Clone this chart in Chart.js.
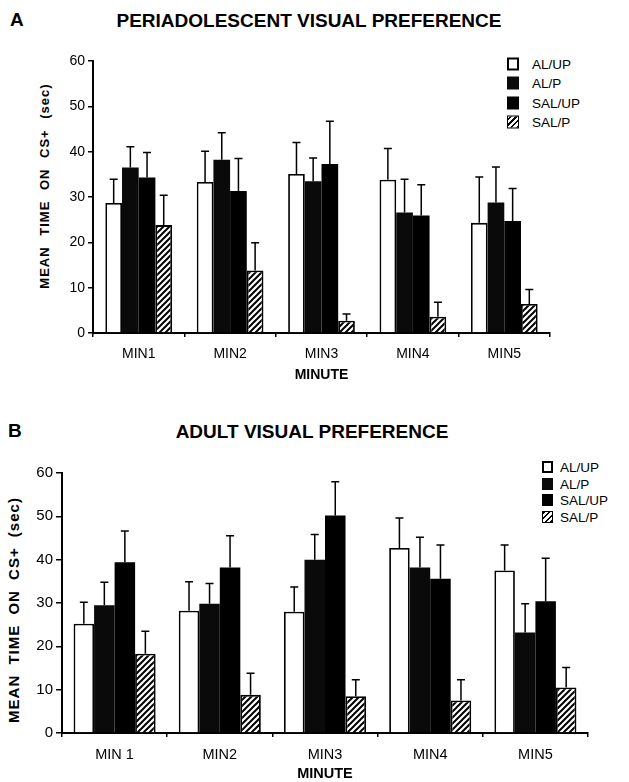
<!DOCTYPE html>
<html>
<head>
<meta charset="utf-8">
<script src="https://cdn.jsdelivr.net/npm/chart.js@4.4.0/dist/chart.umd.min.js"></script>
<style>
    body { margin: 0; background: #fff; width: 629px; height: 782px; position: relative; overflow: hidden;
           font-family: "Liberation Sans", Arial, sans-serif; color: #000; }
    .abs { position: absolute; white-space: nowrap; }
    .letter { font-weight: bold; font-size: 19px; }
    .title { font-weight: bold; font-size: 19px; transform: translate(-50%, -50%); }
    .ytitle { font-weight: bold; transform: translate(-50%, -50%) rotate(-90deg); }
    .legend-item { position: absolute; white-space: nowrap; }
    .legend-item span.box { position: absolute; left: 0; top: 50%; transform: translateY(-50%); box-sizing: border-box; }
    .legend-item span.txt { position: absolute; top: 50%; transform: translateY(-50%); }
    .white { background: #fff; border: 2px solid #000; }
    .dark { background: #0a0a0a; }
    .black { background: #000; }
    .hatch { border: 1.5px solid #000; background: repeating-linear-gradient(-45deg, #000 0 1.6px, #fff 1.6px 4px); }
    canvas { position: absolute; left: 0; }
</style>
</head>
<body>

<div class="abs letter" style="left:10px; top:9px;">A</div>
<div class="abs title" style="left:309px; top:21px;">PERIADOLESCENT VISUAL PREFERENCE</div>
<div class="abs ytitle" style="left:44px; top:186px; font-size:13px; letter-spacing:1px; word-spacing:6px;">MEAN TIME ON CS+ (sec)</div>
<div id="legendA"></div>
<canvas id="chartA" width="629" height="390" style="top:0;"></canvas>

<div class="abs letter" style="left:8px; top:420px;">B</div>
<div class="abs title" style="left:312px; top:432px;">ADULT VISUAL PREFERENCE</div>
<div class="abs ytitle" style="left:13px; top:610px; font-size:15px; letter-spacing:1px; word-spacing:5px;">MEAN TIME ON CS+ (sec)</div>
<div id="legendB"></div>
<canvas id="chartB" width="629" height="392" style="top:390px;"></canvas>

<script>
// Groups and minute labels
const groups = ['AL/UP', 'AL/P', 'SAL/UP', 'SAL/P'];
const minutesA = ['MIN1', 'MIN2', 'MIN3', 'MIN4', 'MIN5'];
const minutesB = ['MIN 1', 'MIN2', 'MIN3', 'MIN4', 'MIN5'];
const yTicks = [0, 10, 20, 30, 40, 50, 60];

// Panel A - periadolescent, mean time on CS+ (sec) and SEM
const alupA = [28.7, 33.3, 35.1, 33.8, 24.3];
const alpA = [36.5, 38.2, 33.5, 26.6, 28.8];
const salupA = [34.3, 31.3, 37.3, 25.9, 24.7];
const salpA = [23.8, 13.8, 2.7, 3.6, 6.4];
const alupErrA = [5.2, 6.8, 6.9, 6.9, 10.1];
const alpErrA = [4.6, 6.0, 5.1, 7.3, 7.8];
const salupErrA = [5.5, 7.2, 9.4, 6.8, 7.2];
const salpErrA = [6.6, 6.1, 1.5, 3.2, 3.2];

// Panel B - adult
const alupB = [25.2, 28.2, 28.0, 42.7, 37.5];
const alpB = [29.5, 29.8, 40.0, 38.2, 23.2];
const salupB = [39.4, 38.2, 50.2, 35.6, 30.4];
const salpB = [18.3, 8.8, 8.5, 7.5, 10.5];
const alupErrB = [5.0, 6.7, 5.7, 6.9, 5.9];
const alpErrB = [5.3, 4.7, 5.8, 7.0, 6.6];
const salupErrB = [7.2, 7.3, 7.8, 7.8, 9.9];
const salpErrB = [5.2, 5.0, 3.8, 4.8, 4.6];

const FONT = '"Liberation Sans", Arial, sans-serif';

// Diagonal hatch for SAL/P bars
function makeHatch() {
    const c = document.createElement('canvas');
    c.width = 6;
    c.height = 6;
    const g = c.getContext('2d');
    g.fillStyle = '#fff';
    g.fillRect(0, 0, 6, 6);
    g.strokeStyle = '#000';
    g.lineWidth = 2;
    g.beginPath();
    g.moveTo(-3, 3); g.lineTo(3, -3);
    g.moveTo(0, 6); g.lineTo(6, 0);
    g.moveTo(3, 9); g.lineTo(9, 3);
    g.stroke();
    return g.createPattern(c, 'repeat');
}

const fills = ['#fff', '#0a0a0a', '#000', makeHatch()];
const legendClasses = ['white', 'dark', 'black', 'hatch'];

// Upward SEM bars with a cap
const errorBarPlugin = {
    id: 'errorBars',
    afterDatasetsDraw(chart) {
        const ctx = chart.ctx;
        const y = chart.scales.y;
        ctx.save();
        ctx.strokeStyle = '#000';
        ctx.lineWidth = 1.5;
        chart.data.datasets.forEach((ds, i) => {
            chart.getDatasetMeta(i).data.forEach((bar, j) => {
                const top = y.getPixelForValue(ds.data[j] + ds.errors[j]);
                ctx.beginPath();
                ctx.moveTo(bar.x, bar.y);
                ctx.lineTo(bar.x, top);
                ctx.moveTo(bar.x - 4, top);
                ctx.lineTo(bar.x + 4, top);
                ctx.stroke();
            });
        });
        ctx.restore();
    }
};

function buildLegend(id, left, textLeft, rows, boxW, boxH, fontSize) {
    const el = document.getElementById(id);
    groups.forEach((name, i) => {
        const item = document.createElement('div');
        item.className = 'legend-item';
        item.style.left = left + 'px';
        item.style.top = rows[i] + 'px';
        item.style.fontSize = fontSize + 'px';
        item.innerHTML = `<span class="box ${legendClasses[i]}" style="width:${boxW}px;height:${boxH}px;"></span>` +
            `<span class="txt" style="left:${textLeft - left}px;">${name}</span>`;
        el.appendChild(item);
    });
}

function makeChart(id, labels, series, errors, opt) {
    const ctx = document.getElementById(id).getContext('2d');
    return new Chart(ctx, {
        type: 'bar',
        data: {
            labels: labels,
            datasets: groups.map((name, i) => ({
                label: name,
                data: series[i],
                errors: errors[i],
                backgroundColor: fills[i],
                borderColor: '#000',
                borderWidth: i === 0 || i === 3 ? 1.8 : 0,
                borderSkipped: 'bottom',
                categoryPercentage: opt.catPct,
                barPercentage: 1.0
            }))
        },
        options: {
            responsive: false,
            devicePixelRatio: 1,
            animation: false,
            layout: { padding: { left: 0, right: 629 - opt.right, top: opt.top, bottom: opt.padBottom } },
            plugins: { legend: { display: false }, tooltip: { enabled: false } },
            scales: {
                x: {
                    grid: { display: true, drawOnChartArea: false, offset: true, tickLength: 4, color: '#000', lineWidth: 1.5 },
                    border: { display: true, color: '#000', width: 2 },
                    ticks: { color: '#000', padding: opt.xPad, font: { family: FONT, size: opt.xFont } },
                    title: { display: true, text: 'MINUTE', color: '#000', padding: 0,
                             font: { family: FONT, size: opt.xFont, weight: 'bold', lineHeight: 1 } },
                    afterFit: scale => { scale.height = opt.xHeight; }
                },
                y: {
                    min: 0,
                    max: 60,
                    afterBuildTicks: scale => { scale.ticks = yTicks.map(v => ({ value: v })); },
                    grid: { display: true, drawOnChartArea: false, tickLength: opt.tickLen, color: '#000', lineWidth: 1.5 },
                    border: { display: true, color: '#000', width: 2 },
                    ticks: { color: '#000', padding: 3, font: { family: FONT, size: opt.yFont } },
                    afterFit: scale => { scale.width = opt.left; }
                }
            }
        },
        plugins: [errorBarPlugin]
    });
}

document.addEventListener('DOMContentLoaded', () => {
    buildLegend('legendA', 507, 532, [64, 83, 103, 122], 12, 13, 13.5);
    buildLegend('legendB', 542, 560, [467, 484, 500, 517], 11, 12, 13.5);

    makeChart('chartA', minutesA,
        [alupA, alpA, salupA, salpA],
        [alupErrA, alpErrA, salupErrA, salpErrA],
        { left: 93, right: 550, top: 61, padBottom: 8, xHeight: 49, xPad: 9, xFont: 14, yFont: 14, tickLen: 5, catPct: 0.73 });

    makeChart('chartB', minutesB,
        [alupB, alpB, salupB, salpB],
        [alupErrB, alpErrB, salupErrB, salpErrB],
        { left: 62, right: 588, top: 83, padBottom: 1, xHeight: 48, xPad: 9, xFont: 14.5, yFont: 15, tickLen: 6, catPct: 0.78 });
});
</script>
</body>
</html>
